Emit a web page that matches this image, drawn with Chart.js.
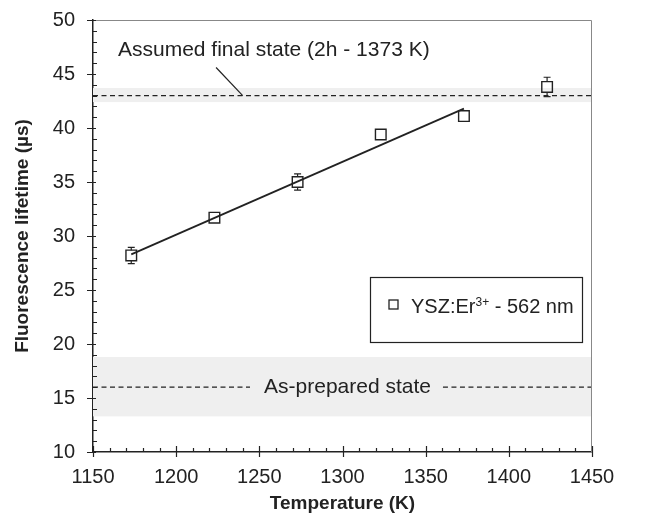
<!DOCTYPE html>
<html lang="en">
<head>
<meta charset="UTF-8">
<title>Fluorescence lifetime vs temperature</title>
<script src="https://cdn.jsdelivr.net/npm/chart.js"></script>
<style>
  html, body { margin: 0; padding: 0; background: #fff; }
  #wrap { width: 655px; height: 520px; }
</style>
</head>
<body>
<div id="wrap"><canvas id="myChart" width="655" height="520"></canvas></div>
<script>
// measured values
const temperatures = [1173, 1223, 1273, 1323, 1373, 1423];
const lifetimes = [28.2, 31.7, 35.0, 39.4, 41.1, 43.8];
const lifetimeErrors = [0.75, 0.3, 0.75, 0.3, 0.3, 0.9];

// linear fit (first five points)
const fitTemps = [1173, 1373];
const fitLifetimes = [28.3, 41.8];

// reference states: dashed level + grey band
const finalStateLevel = 43.0;
const finalStateBand = [42.4, 43.7];
const preparedLevel = 16.0;
const preparedBand = [13.3, 18.8];

// axes
const xTicks = [1150, 1200, 1250, 1300, 1350, 1400, 1450];
const yTicks = [10, 15, 20, 25, 30, 35, 40, 45, 50];

const FONT = '"Liberation Sans", Arial, sans-serif';
const INK = '#222';

const decorPlugin = {
  id: 'decor',
  beforeDatasetsDraw(chart) {
    const {ctx, chartArea: a, scales: {x, y}} = chart;
    ctx.save();
    // grey bands
    ctx.fillStyle = '#efefef';
    [finalStateBand, preparedBand].forEach(b => {
      const y1 = y.getPixelForValue(b[1]), y2 = y.getPixelForValue(b[0]);
      ctx.fillRect(a.left, y1, a.right - a.left, y2 - y1);
    });
    // dashed levels
    ctx.strokeStyle = INK;
    ctx.lineWidth = 1.2;
    ctx.setLineDash([5, 3.5]);
    const yf = y.getPixelForValue(finalStateLevel);
    ctx.beginPath(); ctx.moveTo(a.left, yf); ctx.lineTo(a.right, yf); ctx.stroke();
    const yp = y.getPixelForValue(preparedLevel);
    ctx.font = '21px ' + FONT;
    const label = 'As-prepared state';
    const cx = x.getPixelForValue(1303);
    const w = ctx.measureText(label).width;
    ctx.beginPath();
    ctx.moveTo(a.left, yp); ctx.lineTo(cx - w / 2 - 14, yp);
    ctx.moveTo(cx + w / 2 + 12, yp); ctx.lineTo(a.right, yp);
    ctx.stroke();
    ctx.setLineDash([]);
    ctx.fillStyle = INK;
    ctx.textAlign = 'center';
    ctx.textBaseline = 'middle';
    ctx.fillText(label, cx, yp);
    // final state annotation + leader
    ctx.textAlign = 'left';
    ctx.fillText('Assumed final state (2h - 1373 K)', a.left + 25, 50);
    ctx.lineWidth = 1.2;
    ctx.beginPath();
    ctx.moveTo(x.getPixelForValue(1224), y.getPixelForValue(45.6));
    ctx.lineTo(x.getPixelForValue(1240), yf);
    ctx.stroke();
    // error bars (outside the marker only)
    const half = 5.3;
    ctx.lineWidth = 1.2;
    temperatures.forEach((t, i) => {
      const px = x.getPixelForValue(t);
      const py = y.getPixelForValue(lifetimes[i]);
      const top = y.getPixelForValue(lifetimes[i] + lifetimeErrors[i]);
      const bot = y.getPixelForValue(lifetimes[i] - lifetimeErrors[i]);
      ctx.beginPath();
      if (top < py - half) {
        ctx.moveTo(px, py - half); ctx.lineTo(px, top);
        ctx.moveTo(px - 3.5, top); ctx.lineTo(px + 3.5, top);
      }
      if (bot > py + half) {
        ctx.moveTo(px, py + half); ctx.lineTo(px, bot);
        ctx.moveTo(px - 3.5, bot); ctx.lineTo(px + 3.5, bot);
      }
      ctx.stroke();
    });
    ctx.restore();
  },
  afterDraw(chart) {
    const {ctx, chartArea: a, scales: {x, y}} = chart;
    ctx.save();
    // top / right frame
    ctx.strokeStyle = '#888';
    ctx.lineWidth = 1;
    ctx.beginPath();
    ctx.moveTo(a.left, a.top + 0.5); ctx.lineTo(a.right - 0.5, a.top + 0.5); ctx.lineTo(a.right - 0.5, a.bottom);
    ctx.stroke();
    // ticks
    ctx.strokeStyle = INK;
    ctx.lineWidth = 1.2;
    ctx.beginPath();
    for (let v = 1150; v <= 1450; v += 10) {
      const px = Math.round(x.getPixelForValue(v)) + 0.5;
      const major = v % 50 === 0;
      ctx.moveTo(px, a.bottom + (major ? 5 : 0));
      ctx.lineTo(px, a.bottom - (major ? 6 : 4));
    }
    for (let v = 10; v <= 50; v += 1) {
      const py = Math.round(y.getPixelForValue(v)) + 0.5;
      const major = v % 5 === 0;
      ctx.moveTo(a.left - (major ? 6 : 0), py);
      ctx.lineTo(a.left + (major ? 3 : 4), py);
    }
    ctx.stroke();
    // legend box
    const lx = 370, ly = 277, lw = 212, lh = 65;
    ctx.fillStyle = '#fff';
    ctx.fillRect(lx, ly, lw, lh);
    ctx.strokeStyle = INK;
    ctx.lineWidth = 1.2;
    ctx.strokeRect(lx + 0.5, ly + 0.5, lw, lh);
    ctx.lineWidth = 1.3;
    ctx.strokeRect(389, 300, 9, 9);
    ctx.fillStyle = INK;
    ctx.textBaseline = 'alphabetic';
    ctx.textAlign = 'left';
    let tx = 411;
    const base = 313;
    ctx.font = '20px ' + FONT;
    ctx.fillText('YSZ:Er', tx, base);
    tx += ctx.measureText('YSZ:Er').width;
    ctx.font = '12px ' + FONT;
    ctx.fillText('3+', tx, base - 7);
    tx += ctx.measureText('3+').width;
    ctx.font = '20px ' + FONT;
    ctx.fillText(' - 562 nm', tx, base);
    ctx.restore();
  }
};

const ctx = document.getElementById('myChart').getContext('2d');
new Chart(ctx, {
  type: 'scatter',
  data: {
    datasets: [
      {
        label: 'Linear fit',
        type: 'line',
        data: fitTemps.map((t, i) => ({x: t, y: fitLifetimes[i]})),
        borderColor: INK,
        borderWidth: 1.8,
        pointRadius: 0,
        fill: false
      },
      {
        label: 'YSZ:Er3+ - 562 nm',
        data: temperatures.map((t, i) => ({x: t, y: lifetimes[i]})),
        pointStyle: 'rect',
        pointRadius: 7.5,
        pointHoverRadius: 7.5,
        borderWidth: 1.4,
        borderColor: INK,
        backgroundColor: 'rgba(0,0,0,0)'
      }
    ]
  },
  options: {
    responsive: false,
    animation: false,
    layout: { padding: { top: 20, right: 63, left: 0, bottom: 0 } },
    plugins: {
      legend: { display: false },
      tooltip: { enabled: false }
    },
    scales: {
      x: {
        type: 'linear',
        min: 1150, max: 1450,
        afterFit: s => { s.height = 68; s.paddingLeft = 0; s.paddingRight = 0; },
        afterBuildTicks: s => { s.ticks = xTicks.map(v => ({value: v})); },
        ticks: { color: INK, font: { family: FONT, size: 20 }, padding: 7, maxRotation: 0, callback: v => String(v) },
        grid: { drawOnChartArea: false, drawTicks: true, tickLength: 6, color: 'rgba(0,0,0,0)' },
        border: { display: true, color: INK, width: 1.5 },
        title: { display: true, text: 'Temperature (K)', color: INK, font: { family: FONT, size: 19, weight: 'bold' }, padding: { top: 0, bottom: 5 } }
      },
      y: {
        type: 'linear',
        min: 10, max: 50,
        afterFit: s => { s.width = 93; s.paddingTop = 0; s.paddingBottom = 0; },
        afterBuildTicks: s => { s.ticks = yTicks.map(v => ({value: v})); },
        ticks: { color: INK, font: { family: FONT, size: 20 }, padding: 12, callback: v => String(v) },
        grid: { drawOnChartArea: false, drawTicks: true, tickLength: 6, color: 'rgba(0,0,0,0)' },
        border: { display: true, color: INK, width: 1.5 },
        title: { display: true, text: 'Fluorescence lifetime (µs)', color: INK, font: { family: FONT, size: 19, weight: 'bold' }, padding: { top: 11, bottom: 0 } }
      }
    }
  },
  plugins: [decorPlugin]
});
</script>
</body>
</html>
